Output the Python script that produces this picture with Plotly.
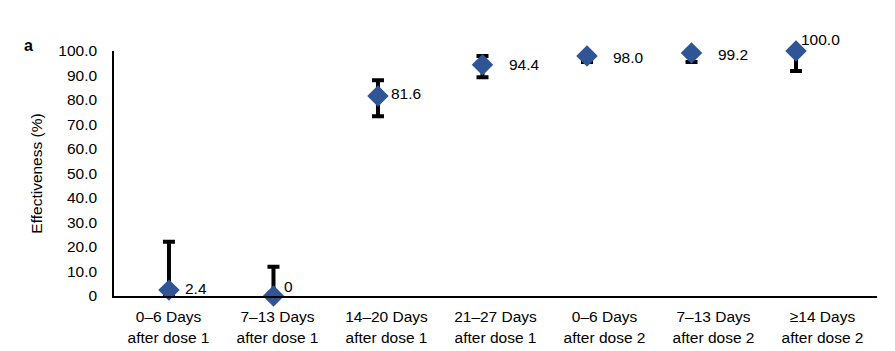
import plotly.graph_objects as go

categories = ["0\u20136 Days<br>after dose 1", "7\u201313 Days<br>after dose 1",
              "14\u201320 Days<br>after dose 1", "21\u201327 Days<br>after dose 1",
              "0\u20136 Days<br>after dose 2", "7\u201313 Days<br>after dose 2",
              "\u226514 Days<br>after dose 2"]
effect = [2.4, 0, 81.6, 94.4, 98.0, 99.2, 100.0]
ci_upper = [22.1, 11.9, 88.1, 98.0, 99.5, 99.9, 100.0]
ci_lower = [0, 0, 73.4, 89.3, 95.5, 95.5, 91.8]
labels = ["2.4", "0", "81.6", "94.4", "98.0", "99.2", "100.0"]
y_ticks = [0, 10, 20, 30, 40, 50, 60, 70, 80, 90, 100]
y_ticktext = ["0", "10.0", "20.0", "30.0", "40.0", "50.0", "60.0", "70.0", "80.0", "90.0", "100.0"]

# label placement offsets (pixels)
label_dx = [14, 9, 11, 25, 24, 24, 3]
label_dy = [2, 10, 3, 0, -2, -2, 12]

font = "Liberation Sans, Arial, Helvetica, sans-serif"
FS = 15.5

fig = go.Figure()
# invisible trace to drive category labels on the primary axis
fig.add_trace(go.Scatter(x=categories, y=effect, mode="markers",
                         marker=dict(opacity=0), hoverinfo="skip", showlegend=False))
fig.add_trace(go.Scatter(
    x=categories, y=effect, mode="markers", xaxis="x2",
    marker=dict(symbol="diamond", size=16.5, color="#2F5597"),
    error_y=dict(type="data", symmetric=False,
                 array=[u - v for u, v in zip(ci_upper, effect)],
                 arrayminus=[v - l for v, l in zip(effect, ci_lower)],
                 color="black", thickness=4, width=6),
    cliponaxis=False, showlegend=False))

for c, v, t, dx, dy in zip(categories, effect, labels, label_dx, label_dy):
    fig.add_annotation(x=c, y=v, xref="x2", yref="y", text=t, showarrow=False,
                       xanchor="left", yanchor="middle", xshift=dx, yshift=dy,
                       font=dict(size=FS, color="black", family=font))

fig.add_annotation(xref="paper", yref="paper",
                   x=(28 - 114) / (895 - 114 - 18), y=1 + (51 - 46) / (351 - 51 - 55),
                   xanchor="center", yanchor="middle",
                   text="<b>a</b>", showarrow=False,
                   font=dict(size=16, color="black", family=font))

fig.update_layout(
    width=895, height=351,
    margin=dict(l=114, r=18, t=51, b=55),
    paper_bgcolor="white", plot_bgcolor="white",
    font=dict(family=font, size=FS, color="black"),
    xaxis=dict(type="category", range=[-0.5, 6.5], showline=True, linecolor="black",
               linewidth=1.5, showgrid=False, ticks="", tickfont=dict(size=FS),
               ticklabelstandoff=6, automargin=False),
    xaxis2=dict(type="category", overlaying="x", range=[-0.526, 6.775], visible=False),
    yaxis=dict(range=[0, 100], tickvals=y_ticks, ticktext=y_ticktext, showline=True,
               linecolor="black", linewidth=1.5, showgrid=False, ticks="",
               zeroline=False, tickfont=dict(size=FS), ticklabelstandoff=12,
               automargin=False,
               title=dict(text="Effectiveness (%)", font=dict(size=FS), standoff=12)),
)
fig.write_html("out.html")
